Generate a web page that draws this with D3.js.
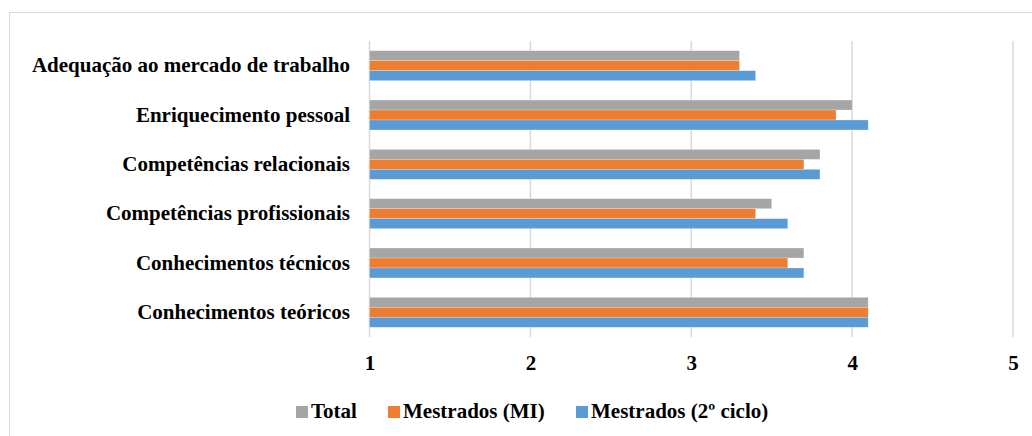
<!DOCTYPE html>
<html><head><meta charset="utf-8">
<script src="https://cdn.jsdelivr.net/npm/d3@7"></script>
<style>body{margin:0;background:#fff}svg{display:block}</style>
</head><body>
<svg id="c" width="1032" height="436"></svg>
<script>
const categories = ["Adequação ao mercado de trabalho","Enriquecimento pessoal","Competências relacionais","Competências profissionais","Conhecimentos técnicos","Conhecimentos teóricos"];
const seriesNames = ["Total","Mestrados (MI)","Mestrados (2º ciclo)"];
const seriesColors = ["#A5A5A5","#ED7D31","#5B9BD5"];
const totalValues = [3.3,4.0,3.8,3.5,3.7,4.1];
const miValues = [3.3,3.9,3.7,3.4,3.6,4.1];
const cicloValues = [3.4,4.1,3.8,3.6,3.7,4.1];
const xTicks = [1,2,3,4,5];
const seriesValues = [totalValues, miValues, cicloValues];

const svg = d3.select("#c");
const font = "'Liberation Serif','Times New Roman',serif";
const fs = "21px";
svg.append("rect").attr("x",9.5).attr("y",12.5).attr("width",1040).attr("height",440)
  .attr("fill","#fff").attr("stroke","#d9d9d9").attr("stroke-width",1);

const x = d3.scaleLinear().domain([1,5]).range([369.5,1013]);
const y = d3.scaleBand().domain(categories).range([41,337]).paddingInner(0.393).paddingOuter(0.197);
const ys = d3.scaleBand().domain(d3.range(3)).range([0,y.bandwidth()]);

// gridlines
svg.append("g").selectAll("line").data(xTicks).join("line")
  .attr("x1",d=>x(d)).attr("x2",d=>x(d)).attr("y1",41).attr("y2",337)
  .attr("stroke","#d9d9d9").attr("stroke-width",1.5);

// bars
const g = svg.append("g");
categories.forEach((c,i)=>{
  seriesValues.forEach((vals,s)=>{
    g.append("rect").attr("x",x(1)).attr("y",y(c)+ys(s))
     .attr("width",x(vals[i])-x(1)).attr("height",ys.bandwidth())
     .attr("fill",seriesColors[s]).attr("stroke","#fff").attr("stroke-opacity",0.4).attr("stroke-width",0.6);
  });
});

// x axis labels
const xa = svg.append("g").attr("transform","translate(0,337)")
  .call(d3.axisBottom(x).tickValues(xTicks).tickSize(0).tickPadding(18).tickFormat(d3.format("d")));
xa.select(".domain").remove();
xa.selectAll("text").attr("font-family",font).attr("font-weight","bold").attr("font-size",fs).attr("fill","#000");

// y axis labels
const ya = svg.append("g").attr("transform","translate(350,0)")
  .call(d3.axisLeft(y).tickSize(0).tickPadding(0));
ya.select(".domain").remove();
ya.selectAll("text").attr("font-family",font).attr("font-weight","bold").attr("font-size",fs).attr("fill","#000");

// legend
const legX = [296,388,576];
const leg = svg.append("g");
seriesNames.forEach((n,i)=>{
  leg.append("rect").attr("x",legX[i]).attr("y",406).attr("width",12).attr("height",12).attr("fill",seriesColors[i]);
  leg.append("text").attr("x",legX[i]+15).attr("y",418).text(n)
    .attr("font-family",font).attr("font-weight","bold").attr("font-size",fs).attr("fill","#000");
});
</script>
</body></html>
